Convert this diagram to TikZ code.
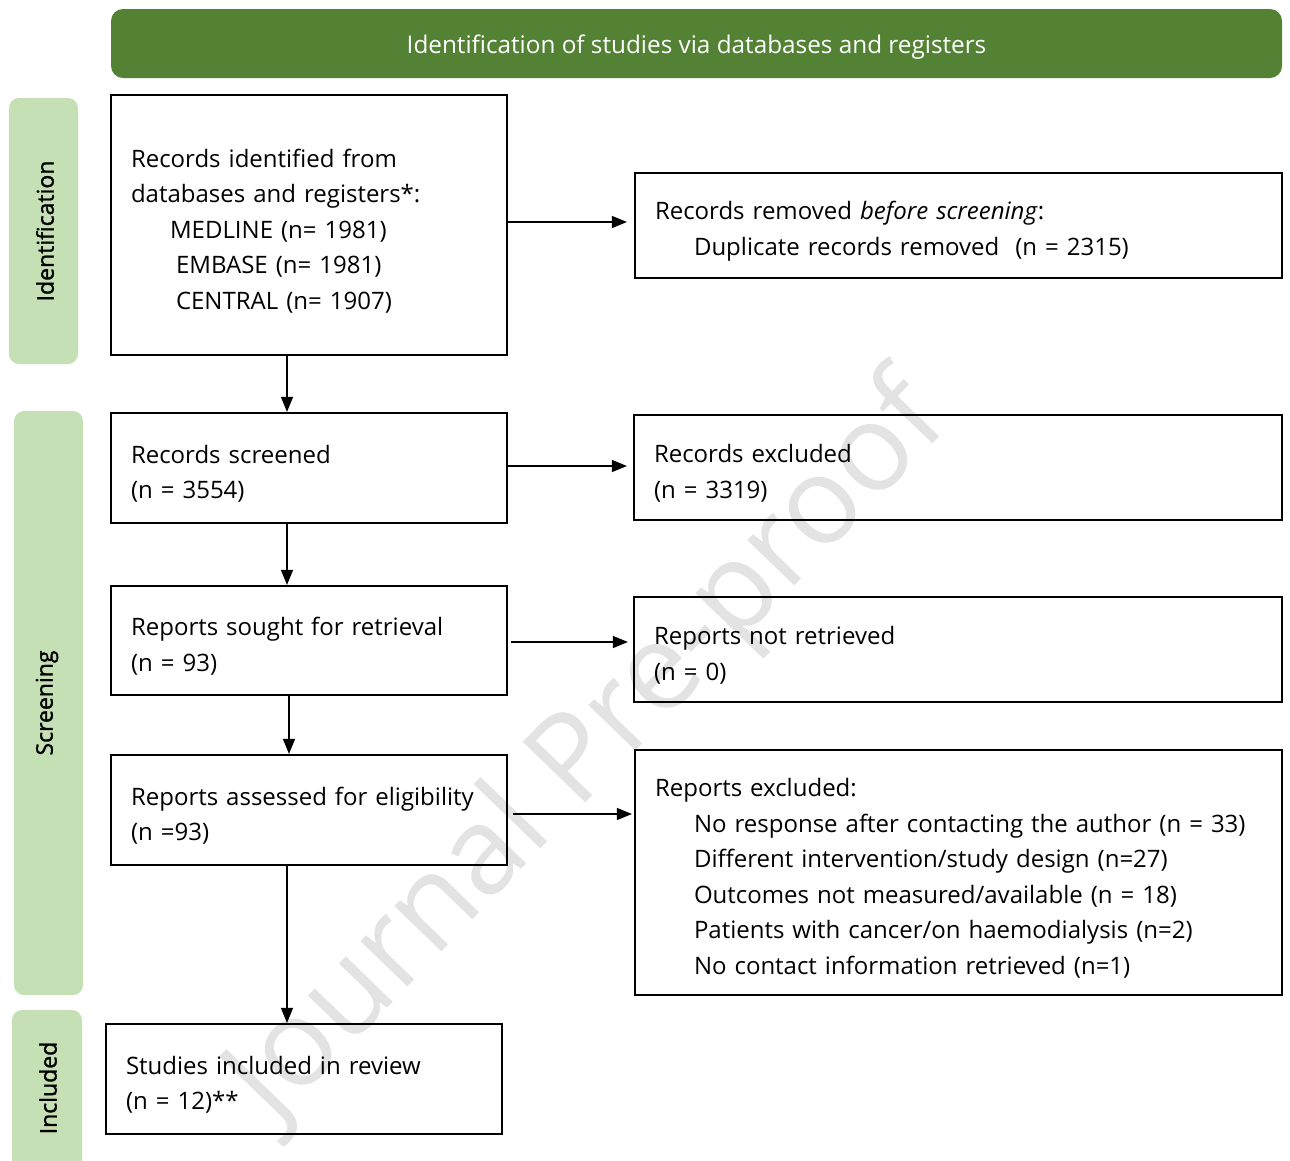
\documentclass[tikz,border=0pt]{standalone}
\usepackage{fontspec}
\setmainfont{Open Sans}
\newfontfamily\sidefont{Open Sans}[FakeBold=1.3]
\usetikzlibrary{arrows.meta,calc}
\definecolor{hdrgreen}{HTML}{548235}
\definecolor{sidegreen}{HTML}{C5E0B4}
\newcommand\tstr{\rule{0pt}{30pt}}
\begin{document}
\begin{tikzpicture}[x=1pt,y=-1pt,
  box/.style={draw=black, line width=2.2pt, align=left, inner xsep=20pt, inner ysep=0pt,
    font=\fontsize{24}{35.5}\selectfont},
  arr/.style={-{Triangle[length=15pt,width=12pt]}, line width=1.3pt},
  sidebar/.style={fill=sidegreen, rounded corners=10pt},
  sidelabel/.style={rotate=90, font=\sidefont\fontsize{23}{28}\selectfont},
]
\useasboundingbox (0,0) rectangle (1290,1160);
\fill[white] (0,0) rectangle (1290,1160);

% watermark
\node[rotate=46, text=black!11, font=\fontsize{122}{122}\selectfont] (wm) at (590,752) {Journal Pre-proof};

% header
\fill[hdrgreen, rounded corners=12pt] (111,9) rectangle (1282,78);
\node[text=white, font=\fontsize{24.3}{28}\selectfont] (hdr) at (696.5,47) {Identification of studies via databases and registers};

% side bars
\fill[sidebar] (9,98) rectangle (78,364);
\fill[sidebar] (14,411) rectangle (83,995);
\fill[sidebar] (12,1010) rectangle (82,1180);
\node[sidelabel] (lid) at (45,231) {Identification};
\node[sidelabel] (lsc) at (47,703) {Screening};
\node[sidelabel] (lin) at (48,1088) {Included};

% boxes
\node[box, text width=356pt, minimum height=260pt] (A) at (309,225) {\tstr Records identified from\\
databases and registers*:\\
\hspace*{39pt}MEDLINE (n= 1981)\\
\hspace*{45pt}EMBASE (n= 1981)\\
\hspace*{45pt}CENTRAL (n= 1907)};
\node[box, text width=607pt, minimum height=105pt] (B) at (958.5,225.5) {\tstr Records removed \textit{before screening}:\\
\hspace*{39pt}Duplicate records removed\ \ (n = 2315)};
\node[box, text width=356pt, minimum height=110pt] (C) at (309,468) {\tstr Records screened\\(n = 3554)};
\node[box, text width=608pt, minimum height=105pt] (D) at (958,467.5) {\tstr Records excluded\\(n = 3319)};
\node[box, text width=356pt, minimum height=109pt] (E) at (309,640.5) {\tstr Reports sought for retrieval\\(n = 93)};
\node[box, text width=608pt, minimum height=105pt] (F) at (958,649.5) {\tstr Reports not retrieved\\(n = 0)};
\node[box, text width=356pt, minimum height=110pt] (G) at (309,810) {\tstr Reports assessed for eligibility\\(n =93)};
\node[box, text width=607pt, minimum height=245pt] (H) at (958.5,872.5) {\tstr Reports excluded:\\
\hspace*{39pt}No response after contacting the author (n = 33)\\
\hspace*{39pt}Different intervention/study design (n=27)\\
\hspace*{39pt}Outcomes not measured/available (n = 18)\\
\hspace*{39pt}Patients with cancer/on haemodialysis (n=2)\\
\hspace*{39pt}No contact information retrieved (n=1)};
\node[box, text width=356pt, minimum height=110pt] (I) at (304,1079) {\tstr Studies included in review\\(n = 12)**};

% guide coordinates
\coordinate (v1) at (287,0);
\coordinate (v2) at (289,0);
\coordinate (h1) at (0,222);
\coordinate (h2) at (0,466);
\coordinate (h3) at (0,642);
\coordinate (h4) at (0,814);

% connectors
\draw[arr, shorten >=7pt] (A.east |- h1) -- (B.west |- h1);
\draw[arr, shorten >=6pt] (C.east |- h2) -- (D.west |- h2);
\draw[arr, shorten >=5pt, shorten <=3pt] (E.east |- h3) -- (F.west |- h3);
\draw[arr, shorten >=2pt, shorten <=5pt] (G.east |- h4) -- (H.west |- h4);
\draw[arr] (A.south -| v1) -- (C.north -| v1);
\draw[arr] (C.south -| v1) -- (E.north -| v1);
\draw[arr] (E.south -| v2) -- (G.north -| v2);
\draw[arr] (G.south -| v1) -- (I.north -| v1);
\end{tikzpicture}
\end{document}
